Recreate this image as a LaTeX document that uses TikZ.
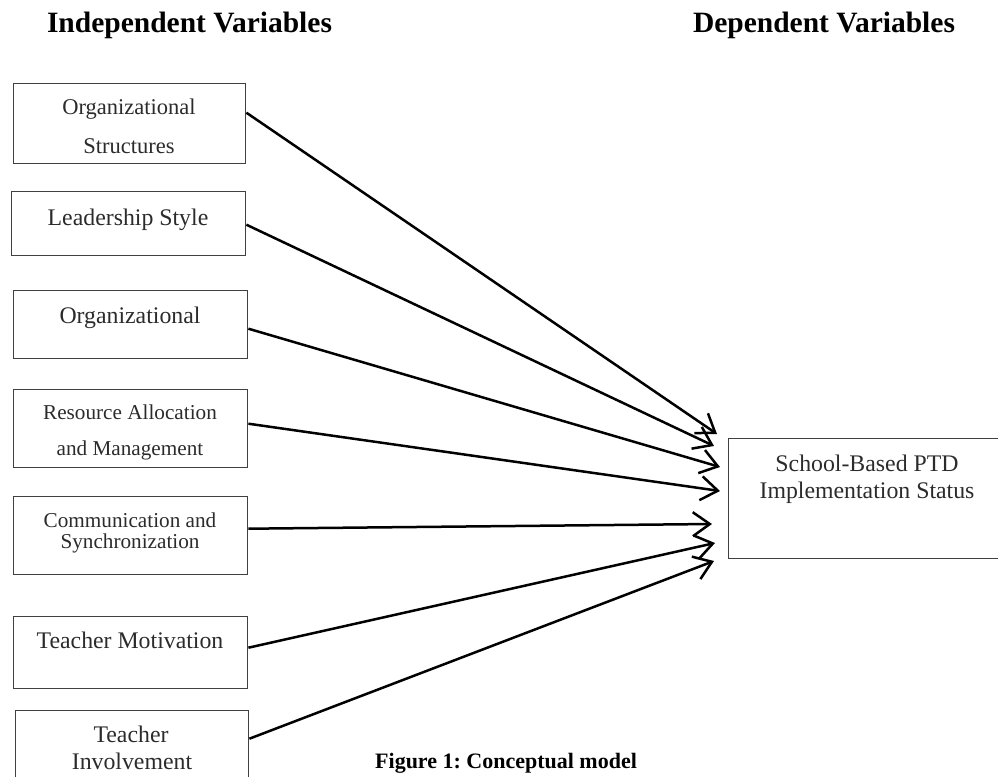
\documentclass[tikz,border=0pt]{standalone}
\usepackage{fontspec}
\setmainfont{Liberation Serif}
\usetikzlibrary{arrows.meta}
\frenchspacing

\definecolor{boxgrey}{HTML}{404040}
\definecolor{txtgrey}{HTML}{2B2B2B}

\begin{document}
\begin{tikzpicture}[x=1pt, y=-1pt,
    varbox/.style={draw=boxgrey, line width=1.4pt, anchor=north west, inner sep=0pt},
    vartext/.style={text=txtgrey, anchor=base, inner sep=0pt},
    headtext/.style={font=\fontsize{29.5}{34}\selectfont\bfseries, anchor=base, inner sep=0pt},
    link/.style={line width=2.5pt, -{Straight Barb[length=17pt,width=24pt]}}]

    \def \bigtxt {\fontsize{23.8}{28}\selectfont}
    \def \midtxt {\fontsize{22.5}{27}\selectfont}
    \def \smalltxt {\fontsize{21.2}{25}\selectfont}

    \useasboundingbox (0,0) rectangle (998,776);
    \clip (0,0) rectangle (998,776);

    % headings
    \node[headtext] (indep) at (189.5,33) {Independent Variables};
    \node[headtext] (dep) at (824,33) {Dependent Variables};

    % independent variables
    \node[varbox, minimum width=232pt, minimum height=80pt] (org) at (13,83) {};
    \node[vartext, font=\midtxt] (org-a) at (129,114) {Organizational};
    \node[vartext, font=\midtxt] (org-b) at (129,153) {Structures};

    \node[varbox, minimum width=234pt, minimum height=64pt] (lead) at (11,191) {};
    \node[vartext, font=\bigtxt] (lead-a) at (128,225) {Leadership Style};

    \node[varbox, minimum width=234pt, minimum height=68pt] (orgb) at (13,290) {};
    \node[vartext, font=\bigtxt] (orgb-a) at (130,323) {Organizational};

    \node[varbox, minimum width=234pt, minimum height=78pt] (res) at (13,389) {};
    \node[vartext, font=\smalltxt] (res-a) at (130,419) {Resource Allocation};
    \node[vartext, font=\smalltxt] (res-b) at (130,455) {and Management};

    \node[varbox, minimum width=234pt, minimum height=78pt] (comm) at (13,496) {};
    \node[vartext, font=\smalltxt] (comm-a) at (130,527) {Communication and};
    \node[vartext, font=\smalltxt] (comm-b) at (130,548) {Synchronization};

    \node[varbox, minimum width=234pt, minimum height=72pt] (mot) at (13,616) {};
    \node[vartext, font=\bigtxt] (mot-a) at (130,648) {Teacher Motivation};

    \node[varbox, minimum width=233pt, minimum height=80pt] (inv) at (15,710) {};
    \node[vartext, font=\bigtxt] (inv-a) at (131,742) {Teacher};
    \node[vartext, font=\bigtxt] (inv-b) at (132,769) {Involvement};

    % dependent variable
    \node[varbox, minimum width=282pt, minimum height=120pt] (ptd) at (728,438) {};
    \node[vartext, font=\bigtxt] (ptd-a) at (867,471) {School-Based PTD};
    \node[vartext, font=\bigtxt] (ptd-b) at (867,498) {Implementation Status};

    % arrows into the dependent box
    \foreach \src/\dy/\tx/\ty in {org/11/717/434, lead/-1/714/446, orgb/-4/720/467,
                                 res/5/720/491, comm/7/712/524, mot/5/715/543, inv/12/714/561}
    {
        \coordinate (\src-tip) at (\tx,\ty);
        \draw[link] ([yshift=\dy pt]\src.east) -- (\src-tip);
    }

    \node[font=\fontsize{22}{26}\selectfont\bfseries, anchor=base west, inner sep=0pt] (cap) at (375,768) {Figure 1: Conceptual model};

\end{tikzpicture}
\end{document}
